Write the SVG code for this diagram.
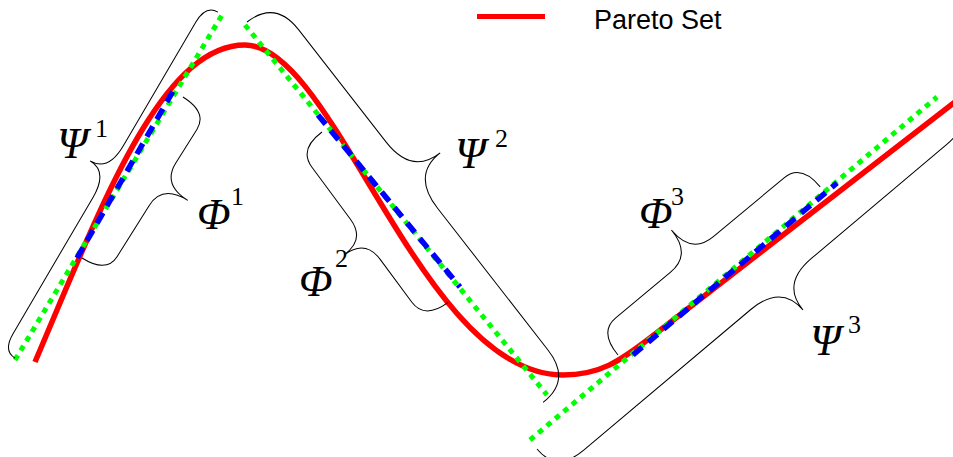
<svg xmlns="http://www.w3.org/2000/svg" width="953" height="457" viewBox="0 0 953 457">
<style>
.brace{fill:none;stroke:#000;stroke-width:1}
.green{fill:none;stroke:#00ff00;stroke-width:5;stroke-dasharray:5.5 5.5}
.blue{fill:none;stroke:#0000ff;stroke-width:5.5;stroke-dasharray:12 8}
.red{fill:none;stroke:#ff0000;stroke-width:5.5}
.sym{font-family:"Liberation Serif","Times New Roman",serif;font-style:italic;font-size:44px;fill:#000}
.sup{font-family:"Liberation Serif","Times New Roman",serif;font-size:26px;fill:#000}
.leg{font-family:"Liberation Sans",Arial,sans-serif;font-size:27px;fill:#000}
</style>
<rect width="953" height="457" fill="#fff"/>
<g id="connectors">
  <path class="red" d="M35,362 C100,210 160,45 245,45 C335.8,45 420.8,375 563,375 C600,375 620,361 650,338 L960,98"/>
  <line class="green" x1="15" y1="360" x2="222" y2="15"/>
  <line class="green" x1="245" y1="25" x2="547" y2="395"/>
  <line class="green" x1="530" y1="440" x2="937" y2="97"/>
  <line class="blue" x1="77" y1="258" x2="176" y2="86"/>
  <line class="blue" x1="318" y1="115" x2="460" y2="287"/>
  <line class="blue" x1="633" y1="355" x2="837" y2="183"/>
</g>
<g id="brace-psi1">
  <path class="brace" transform="translate(15,358) rotate(-59.6)" d="M0,0 Q0,-14 20,-14 L178,-14 Q208,-14 208,-35 Q208,-14 238,-14 L381,-14 Q401,-14 401,0"/>
  <text class="sym" x="57" y="158">Ψ</text><text class="sup" x="95" y="137">1</text>
</g>
<g id="brace-phi1">
  <path class="brace" transform="translate(82,258) rotate(-57.9)" d="M0,0 Q0,29 20,29 L80,29 Q105,29 105,59 Q105,29 130,29 L170,29 Q190,29 190,0"/>
  <text class="sym" x="197" y="229">Φ</text><text class="sup" x="231" y="205">1</text>
</g>
<g id="brace-psi2">
  <path class="brace" transform="translate(247,22) rotate(52.1)" d="M0,0 Q0,-36 38,-36 L180,-36 Q222,-36 222,-72 Q222,-36 264,-36 L444,-36 Q482,-36 482,0"/>
  <text class="sym" x="455" y="168">Ψ</text><text class="sup" x="495" y="147">2</text>
</g>
<g id="brace-phi2">
  <path class="brace" transform="translate(322,132) rotate(53.5)" d="M0,0 Q0,29 22,29 L87,29 Q112,29 112,55 Q112,29 137,29 L190,29 Q212,29 212,0"/>
  <text class="sym" x="299" y="296">Φ</text><text class="sup" x="335" y="267">2</text>
</g>
<g id="brace-phi3">
  <path class="brace" transform="translate(618,355) rotate(-39.75)" d="M0,0 Q0,-30 22,-30 L93,-30 Q121,-30 121,-62 Q121,-30 149,-30 L241,-30 Q263,-30 263,0"/>
  <text class="sym" x="639" y="228">Φ</text><text class="sup" x="671" y="205">3</text>
</g>
<g id="brace-psi3">
  <path class="brace" transform="translate(537,449) rotate(-40.1)" d="M0,0 Q0,31 35,31 L253,31 Q293,31 293,65 Q293,31 333,31 L510,31 Q545,31 545,0"/>
  <text class="sym" x="810" y="355">Ψ</text><text class="sup" x="848" y="333">3</text>
</g>
<g id="legend">
  <line x1="477" y1="16.5" x2="545" y2="16.5" stroke="#ff0000" stroke-width="5"/>
  <text class="leg" x="594" y="28.5">Pareto Set</text>
</g>
</svg>
